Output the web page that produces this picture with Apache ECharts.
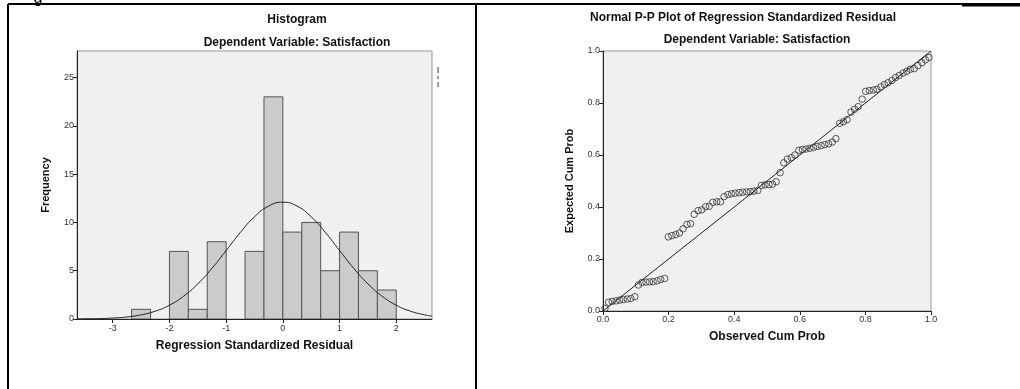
<!DOCTYPE html>
<html><head><meta charset="utf-8">
<script src="https://cdn.jsdelivr.net/npm/echarts@6.0.0/dist/echarts.min.js"></script>
<style>html,body{margin:0;padding:0;background:#fff}#c{width:1020px;height:389px}</style>
</head><body><div id="c"></div>
<script>
// Histogram bins (residual bin start, bin end, frequency)
const binStart = [-2.667,-2,-1.667,-1.333,-0.667,-0.333,0,0.333,0.667,1,1.333,1.667];
const binEnd   = [-2.333,-1.667,-1.333,-1,-0.333,0,0.333,0.667,1,1.333,1.667,2];
const binCount = [1,7,1,8,7,23,9,10,5,9,5,3];
// Normal curve
const curveX = [-3.63,-3.5,-3.25,-3,-2.75,-2.5,-2.25,-2,-1.75,-1.5,-1.25,-1,-0.75,-0.5,-0.25,0,0.25,0.5,0.75,1,1.25,1.5,1.75,2,2.25,2.5,2.63];
const curveY = [0.01,0.02,0.04,0.10,0.21,0.43,0.81,1.43,2.36,3.64,5.25,7.09,8.96,10.58,11.69,12.09,11.69,10.58,8.96,7.09,5.25,3.64,2.36,1.43,0.81,0.43,0.30];
const histXTicks = [-3,-2,-1,0,1,2];
const histYTicks = [0,5,10,15,20,25];
// P-P plot points
const obsCum = [0.006,0.017,0.028,0.040,0.051,0.062,0.074,0.085,0.097,0.108,0.119,0.131,0.142,0.153,0.165,0.176,0.188,0.199,0.210,0.222,0.233,0.244,0.256,0.267,0.278,0.290,0.301,0.313,0.324,0.335,0.347,0.358,0.369,0.381,0.392,0.403,0.415,0.426,0.438,0.449,0.460,0.472,0.483,0.494,0.506,0.517,0.528,0.540,0.551,0.562,0.574,0.585,0.597,0.608,0.619,0.631,0.642,0.653,0.665,0.676,0.688,0.699,0.710,0.722,0.733,0.744,0.756,0.767,0.778,0.790,0.801,0.812,0.824,0.835,0.847,0.858,0.869,0.881,0.892,0.903,0.915,0.926,0.937,0.949,0.960,0.972,0.983,0.994];
const expCum = [0.010,0.034,0.037,0.039,0.042,0.044,0.046,0.048,0.055,0.100,0.110,0.111,0.112,0.113,0.116,0.121,0.125,0.285,0.290,0.294,0.300,0.316,0.333,0.336,0.372,0.386,0.389,0.401,0.403,0.418,0.420,0.420,0.440,0.448,0.451,0.453,0.455,0.457,0.458,0.459,0.461,0.464,0.483,0.485,0.486,0.488,0.497,0.532,0.570,0.584,0.590,0.600,0.618,0.621,0.623,0.626,0.629,0.633,0.636,0.640,0.643,0.650,0.663,0.722,0.728,0.736,0.765,0.776,0.786,0.815,0.845,0.848,0.850,0.853,0.862,0.871,0.878,0.887,0.898,0.906,0.915,0.922,0.930,0.932,0.944,0.955,0.966,0.975];
const ppTicks = [0,0.2,0.4,0.6,0.8,1.0];

const FONT = 'Liberation Sans, Arial, sans-serif';
const chart = echarts.init(document.getElementById('c'), null, {renderer:'canvas'});
const axisCommon = {
  axisLine:{show:true,onZero:false,lineStyle:{color:'#222',width:1}},
  axisTick:{show:true,length:4,lineStyle:{color:'#222'}},
  splitLine:{show:false},
  axisLabel:{color:'#333',fontSize:9,fontFamily:FONT,margin:3}
};
function mk(o, ticks, fmt, margin){
  const a = JSON.parse(JSON.stringify(axisCommon));
  Object.assign(a,o);
  a.axisTick.customValues = ticks;
  a.axisLabel.customValues = ticks;
  if(fmt) a.axisLabel.formatter = fmt;
  if(margin!=null) a.axisLabel.margin = margin;
  return a;
}
const boldText = (t,x,y,size,rot)=>({type:'text',x:x,y:y,rotation:rot||0,style:{text:t,fill:'#111',font:'bold '+size+'px '+FONT,textAlign:'center',textVerticalAlign:'middle'},silent:true});
const line = (x1,y1,x2,y2,w,c)=>({type:'line',shape:{x1,y1,x2,y2},style:{stroke:c||'#000',lineWidth:w},silent:true});

chart.setOption({
  animation:false,
  grid:[
    {left:77,top:51,width:355,height:268,show:true,backgroundColor:'#f0f0f0',borderColor:'#999',borderWidth:1,outerBoundsMode:'none'},
    {left:603,top:51,width:328,height:260,show:true,backgroundColor:'#f0f0f0',borderColor:'#999',borderWidth:1,outerBoundsMode:'none'}
  ],
  xAxis:[
    mk({type:'value',gridIndex:0,min:-3.63,max:2.63}, histXTicks, null, 5),
    mk({type:'value',gridIndex:1,min:0,max:1}, ppTicks, v=>v.toFixed(1), 4)
  ],
  yAxis:[
    mk({type:'value',gridIndex:0,min:0,max:27.75}, histYTicks),
    mk({type:'value',gridIndex:1,min:0,max:1}, ppTicks, v=>v.toFixed(1))
  ],
  series:[
    {type:'custom',xAxisIndex:0,yAxisIndex:0,clip:true,
     data:binStart.map((s,i)=>[s,binEnd[i],binCount[i]]),
     renderItem:(params,api)=>{
       const p0 = api.coord([api.value(0),api.value(2)]);
       const p1 = api.coord([api.value(1),0]);
       return {type:'rect',shape:{x:p0[0],y:p0[1],width:p1[0]-p0[0],height:p1[1]-p0[1]},
               style:{fill:'#cbcbcb',stroke:'#555',lineWidth:1}};
     }},
    {type:'line',xAxisIndex:0,yAxisIndex:0,smooth:true,showSymbol:false,symbol:'none',
     data:curveX.map((x,i)=>[x,curveY[i]]),lineStyle:{color:'#222',width:1},z:5},
    {type:'line',xAxisIndex:1,yAxisIndex:1,showSymbol:false,symbol:'none',
     data:[[0,0],[1,1]],lineStyle:{color:'#222',width:1}},
    {type:'scatter',xAxisIndex:1,yAxisIndex:1,symbol:'circle',symbolSize:6.5,
     data:obsCum.map((x,i)=>[x,expCum[i]]),
     itemStyle:{color:'rgba(0,0,0,0)',borderColor:'#333',borderWidth:1}}
  ],
  graphic:[
    line(8,4,1020,4,2),
    line(8,4,8,389,2),
    line(476,4,476,389,2),
    line(962,5,1020,5,3),
    line(438,67,438,73,1,'#444'),
    line(438,76,438,79,1,'#444'),
    line(438,82,438,87,1,'#444'),
    {type:'text',x:38,y:-9,style:{text:'g',fill:'#000',font:'16px '+FONT,textAlign:'center'},silent:true},
    boldText('Histogram',297,20,12),
    boldText('Dependent Variable: Satisfaction',297,43,12),
    boldText('Regression Standardized Residual',254.5,346,12),
    boldText('Frequency',46,185,11,Math.PI/2),
    boldText('Normal P-P Plot of Regression Standardized Residual',743,18,12),
    boldText('Dependent Variable: Satisfaction',757,40,12),
    boldText('Observed Cum Prob',767,337,12),
    boldText('Expected Cum Prob',570,181,11,Math.PI/2)
  ]
});
</script></body></html>
